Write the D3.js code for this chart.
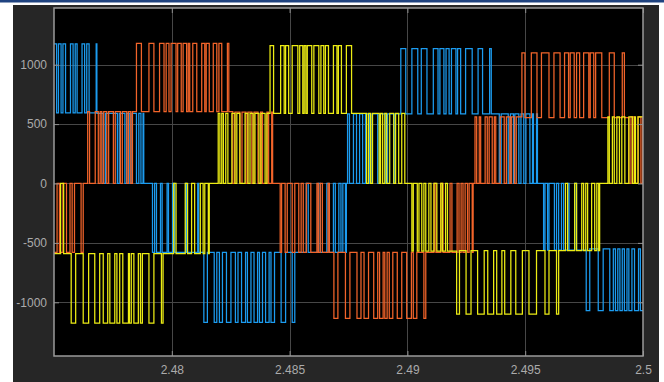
<!DOCTYPE html>
<html>
<head>
<meta charset="utf-8">
<script src="https://cdn.jsdelivr.net/npm/d3@7"></script>
<style>
  html, body { margin: 0; padding: 0; background: #ffffff; }
  svg { display: block; }
</style>
</head>
<body>
<svg id="chart" width="664" height="382"></svg>
<script>
// Time window shown (s) and axis ticks
const tStart = 2.475;
const tEnd = 2.5;
const xTicks = [2.48, 2.485, 2.49, 2.495, 2.5];
const yTicks = [-1000, -500, 0, 500, 1000];
const yDomain = [-1452, 1477];

// Phase voltages of the 5-level inverter.
// Each segment: [first level, alternate level, switching instants in ms after tStart].
// At the first instant the output takes the first level, then toggles at every following instant.
const phaseA = [
  [1175, 595, [0, 0.11, 0.19, 0.30, 0.38, 0.49, 0.70, 0.81, 0.90, 0.98, 1.19, 1.30, 1.39, 1.49, 1.79, 1.82]],
  [590, 0, [1.83, 2.09, 2.18, 2.69, 2.77, 3.01, 3.09, 3.22, 3.31, 3.50, 3.60, 3.69, 3.78, 3.81]],
  [-580, 0, [4.18, 4.27, 4.35, 4.52, 4.59, 4.80, 4.86, 5.03, 5.12, 5.59, 5.63, 6.10, 6.14]],
  [-1168, -580, [6.36, 6.51, 6.80, 6.91, 7.02, 7.15, 7.32, 7.51, 7.70, 7.81, 7.96, 8.13, 8.21, 8.36, 8.49, 8.64, 8.72, 8.85, 8.98, 9.13, 9.21, 9.36, 9.64, 9.83, 10.11, 10.22]],
  [0, -580, [10.71, 10.79, 11.22, 11.30, 11.58, 11.67, 11.86, 11.94, 12.09, 12.18, 12.26, 12.37, 12.41]],
  [585, 0, [12.46, 12.54, 12.71, 12.84, 12.97, 13.10, 13.22, 13.40, 13.50, 13.74, 13.82, 14.08, 14.16, 14.42, 14.48]],
  [1135, 585, [14.72, 14.93, 15.19, 15.44, 15.59, 15.83, 16.10, 16.30, 16.38, 16.55, 16.64, 16.77, 16.87, 17.06, 17.13, 17.26, 17.47, 17.75, 18.00, 18.19, 18.49, 18.56]],
  [0, 585, [18.90, 18.98, 19.28, 19.37, 19.50, 19.56, 19.73, 19.82, 19.94, 20.03, 20.20, 20.31, 20.35, 20.48, 20.52]],
  [-560, 0, [20.78, 20.84, 20.95, 21.01, 21.24, 21.33, 21.42, 21.54, 21.63, 21.80, 21.86, 22.10, 22.18]],
  [-1070, -550, [22.59, 22.74, 23.10, 23.31, 23.59, 23.74, 23.83, 23.93, 24.02, 24.12, 24.21, 24.32, 24.40, 24.53, 24.64, 24.81, 24.89]]
];

const phaseB = [
  [-580, 0, [0, 0.13, 0.23, 0.38, 0.53, 0.68, 0.77, 0.87, 1.15, 1.24]],
  [605, 0, [1.43, 1.51, 1.75, 1.88, 1.96, 2.03, 2.11, 2.24, 2.32, 2.52, 2.60, 2.82, 2.90, 3.09, 3.16, 3.26, 3.33]],
  [1180, 605, [3.50, 3.71, 4.03, 4.24, 4.48, 4.67, 4.76, 4.88, 4.97, 5.18, 5.25, 5.40, 5.48, 5.63, 5.70, 5.76, 5.89, 6.06, 6.27, 6.40, 6.46, 6.59, 6.76, 6.91, 7.00, 7.12, 7.36, 7.42]],
  [0, 600, [7.59, 7.68, 7.89, 7.98, 8.15, 8.23, 8.40, 8.49, 8.66, 8.77, 8.85, 9.04, 9.11, 9.24, 9.28]],
  [-580, 0, [9.60, 9.66, 9.81, 9.90, 10.11, 10.22, 10.39, 10.49, 10.58, 10.71, 10.90, 11.16, 11.22, 11.30, 11.39, 11.63, 11.69]],
  [-1135, -580, [11.88, 12.05, 12.37, 12.56, 12.86, 13.03, 13.16, 13.35, 13.57, 13.74, 13.82, 13.97, 14.04, 14.14, 14.23, 14.38, 14.57, 14.76, 14.97, 15.17, 15.25, 15.40, 15.70, 15.78]],
  [0, -580, [16.13, 16.21, 16.42, 16.51, 16.81, 16.89, 17.11, 17.19, 17.28, 17.36, 17.45, 17.55, 17.62, 17.75, 17.79]],
  [560, 0, [17.87, 17.94, 18.05, 18.11, 18.30, 18.39, 18.47, 18.60, 18.69, 18.75, 18.94, 19.11, 19.20, 19.35, 19.41, 19.54, 19.62]],
  [1100, 555, [19.86, 19.99, 20.26, 20.50, 20.69, 21.01, 21.22, 21.48, 21.67, 21.84, 21.91, 22.08, 22.18, 22.31, 22.48, 22.70, 22.76, 22.91, 22.99, 23.25, 23.57, 23.78, 24.12, 24.21]],
  [0, 560, [24.40, 24.49, 24.62, 24.79, 24.91, 24.98]]
];

const phaseC = [
  [-590, 0, [0, 0.28, 0.41]],
  [-1176, -590, [0.73, 0.92, 1.24, 1.47, 1.73, 1.94, 2.09, 2.28, 2.37, 2.58, 2.67, 2.79, 2.92, 3.16, 3.20, 3.28, 3.39, 3.58, 3.67, 3.75, 4.03, 4.24, 4.56, 4.63]],
  [0, -590, [5.08, 5.18, 5.57, 5.67, 5.84, 5.97, 6.21, 6.33, 6.40, 6.55, 6.59]],
  [590, 0, [6.97, 7.04, 7.12, 7.19, 7.29, 7.38, 7.55, 7.68, 7.76, 7.89, 8.11, 8.23, 8.32, 8.45, 8.53, 8.70, 8.79, 8.96, 9.04]],
  [1160, 590, [9.17, 9.32, 9.62, 9.77, 9.83, 9.96, 10.11, 10.35, 10.43, 10.56, 10.62, 10.69, 10.75, 10.94, 11.03, 11.24, 11.33, 11.45, 11.52, 11.65, 11.86, 12.01, 12.07, 12.20, 12.41, 12.63]],
  [0, 590, [13.27, 13.35, 13.44, 13.52, 13.80, 13.86, 13.95, 14.04, 14.12, 14.25, 14.42, 14.50, 14.63, 14.76, 14.89]],
  [-570, 0, [15.19, 15.25, 15.42, 15.49, 15.61, 15.70, 15.78, 15.91, 16.00, 16.13, 16.25, 16.42, 16.49, 16.62, 16.70]],
  [-1100, -565, [17.09, 17.21, 17.49, 17.70, 17.98, 18.26, 18.41, 18.66, 18.79, 19.01, 19.13, 19.39, 19.60, 19.88, 20.16, 20.48, 20.84, 21.01, 21.33, 21.42]],
  [0, -565, [21.71, 21.80, 22.10, 22.18, 22.40, 22.48, 22.57, 22.65, 22.82, 22.95, 23.04, 23.12, 23.16]],
  [560, 0, [23.51, 23.57, 23.70, 23.78, 23.89, 24.00, 24.10, 24.23, 24.40, 24.55, 24.64, 24.68, 24.79]]
];

const seriesColors = ["#1c9cf0", "#f2642a", "#ecec14"];

// Expand segments into step points {t, v}
function toSteps(segments) {
  const pts = [];
  segments.forEach(([a, b, ms]) => {
    ms.forEach((m, i) => pts.push({ t: tStart + m / 1000, v: i % 2 === 0 ? a : b }));
  });
  pts.push({ t: tEnd, v: pts[pts.length - 1].v });
  return pts;
}

const svg = d3.select("#chart");
const W = 664, H = 382;
const plot = { left: 54, right: 643, top: 8, bottom: 356 };

// window chrome
svg.append("rect").attr("x", 0).attr("y", 0).attr("width", W).attr("height", 2.5).attr("fill", "#1f4380");
svg.append("rect").attr("x", 13).attr("y", 5).attr("width", 646).attr("height", H - 5).attr("fill", "#262626");
svg.append("rect").attr("x", plot.left).attr("y", plot.top)
  .attr("width", plot.right - plot.left).attr("height", plot.bottom - plot.top).attr("fill", "#000");

const x = d3.scaleLinear().domain([tStart, tEnd]).range([plot.left, plot.right]);
const y = d3.scaleLinear().domain(yDomain).range([plot.bottom, plot.top]);

// grid
const grid = svg.append("g").attr("stroke", "#474747").attr("stroke-width", 1);
grid.selectAll("line.gx").data(xTicks.filter(d => d < tEnd)).join("line")
  .attr("x1", d => Math.round(x(d)) + 0.5).attr("x2", d => Math.round(x(d)) + 0.5)
  .attr("y1", plot.top).attr("y2", plot.bottom);
grid.selectAll("line.gy").data(yTicks).join("line")
  .attr("y1", d => Math.round(y(d)) + 0.5).attr("y2", d => Math.round(y(d)) + 0.5)
  .attr("x1", plot.left).attr("x2", plot.right);

// traces
svg.append("clipPath").attr("id", "clip").append("rect")
  .attr("x", plot.left).attr("y", plot.top)
  .attr("width", plot.right - plot.left).attr("height", plot.bottom - plot.top);

const line = d3.line().x(d => x(d.t)).y(d => y(d.v)).curve(d3.curveStepAfter);
const traces = svg.append("g").attr("clip-path", "url(#clip)");
[phaseA, phaseB, phaseC].forEach((seg, i) => {
  traces.append("path")
    .datum(toSteps(seg))
    .attr("d", line)
    .attr("fill", "none")
    .attr("stroke", seriesColors[i])
    .attr("stroke-width", 1.25);
});

// axes: ticks point inward on all four sides
const tickColor = "#8e8e8e";
const fmt = d => String(d);
const axB = svg.append("g").attr("transform", `translate(0,${plot.bottom})`)
  .call(d3.axisBottom(x).tickValues(xTicks).tickFormat(fmt).tickSize(-5).tickPadding(9));
const axT = svg.append("g").attr("transform", `translate(0,${plot.top})`)
  .call(d3.axisTop(x).tickValues(xTicks).tickFormat("").tickSize(-5));
const axL = svg.append("g").attr("transform", `translate(${plot.left},0)`)
  .call(d3.axisLeft(y).tickValues(yTicks).tickFormat(fmt).tickSize(-5).tickPadding(7));
const axR = svg.append("g").attr("transform", `translate(${plot.right},0)`)
  .call(d3.axisRight(y).tickValues(yTicks).tickFormat("").tickSize(-5));

[axB, axT, axL, axR].forEach(g => {
  g.select(".domain").remove();
  g.selectAll(".tick line").attr("stroke", tickColor);
  g.selectAll(".tick text")
    .attr("fill", "#ababab")
    .style("font-family", "'Liberation Sans', Arial, sans-serif")
    .style("font-size", "12px");
});

// axes frame
svg.append("rect").attr("x", plot.left).attr("y", plot.top)
  .attr("width", plot.right - plot.left).attr("height", plot.bottom - plot.top)
  .attr("fill", "none").attr("stroke", "#9a9a9a").attr("stroke-width", 1.5);
</script>
</body>
</html>
